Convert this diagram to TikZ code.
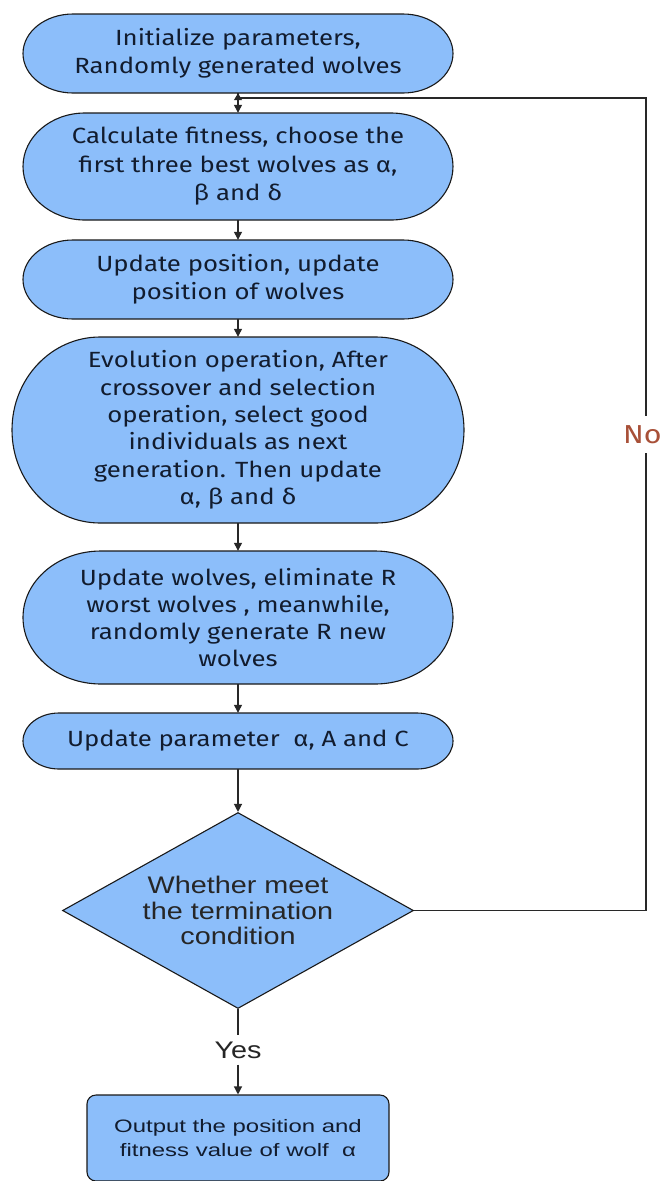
\documentclass[tikz,border=0pt]{standalone}
\usepackage{fontspec}
\setmainfont{Fira Sans}
\newfontfamily\boxfont[FakeStretch=1.17]{Fira Sans}
\newfontfamily\arialfont[FakeStretch=1.2]{Liberation Sans}
\newfontfamily\outfont[FakeStretch=1.33]{Liberation Sans}
\usetikzlibrary{arrows.meta,shapes.geometric,calc}
\definecolor{boxblue}{RGB}{140,190,250}
\definecolor{txtc}{RGB}{18,28,46}
\definecolor{noc}{RGB}{168,80,56}
\definecolor{linec}{RGB}{40,40,40}
\tikzset{
  shapeline/.style={draw=black!90, line width=1.1pt, fill=boxblue},
  boxtext/.style={align=center, text=txtc, font=\boxfont\fontsize{22}{28.5}\selectfont, inner sep=0pt},
  conn/.style={draw=linec, line width=1.2pt},
  arr/.style={conn, -{Triangle[length=8pt,width=8pt]}},
}
\newcommand\stadium[5]{%
  \draw[shapeline] ({#1+#5},-#3) -- ({#2-#5},-#3)
    arc[start angle=90,end angle=-90,x radius=#5,y radius={(#4-#3)/2}]
    -- ({#1+#5},-#4)
    arc[start angle=270,end angle=90,x radius=#5,y radius={(#4-#3)/2}] -- cycle;}
\begin{document}
\begin{tikzpicture}[x=1pt,y=1pt]
\useasboundingbox (0,0) rectangle (662,-1181);
\clip (0,0) rectangle (662,-1181);
\fill[white] (0,0) rectangle (662,-1181);
% shapes
\stadium{23}{453}{14}{93}{50}
\stadium{23}{453}{113}{220}{62}
\stadium{23}{453}{240}{319}{50}
\stadium{12}{464}{337}{523}{88}
\stadium{23}{453}{551}{684}{78}
\stadium{23}{453}{713}{769}{36}
% nodes
\node[boxtext, minimum width=430pt, minimum height=79pt] (b1) at (238,-53.5)
  {Initialize parameters,\\Randomly generated wolves};
\node[boxtext, minimum width=430pt, minimum height=107pt] (b2) at (238,-166.5)
  {Calculate fitness, choose the\\first three best wolves as α,\\β and δ};
\node[boxtext, minimum width=430pt, minimum height=79pt] (b3) at (238,-279.5)
  {Update position, update\\position of wolves};
\node[boxtext, minimum width=452pt, minimum height=186pt, font=\boxfont\fontsize{22}{27.3}\selectfont] (b4) at (238,-430)
  {Evolution operation, After\\crossover and selection\\operation, select good\\individuals as next\\generation. Then update\\α, β and δ};
\node[boxtext, minimum width=430pt, minimum height=133pt, font=\boxfont\fontsize{22}{27.3}\selectfont] (b5) at (238,-617.5)
  {Update wolves, eliminate R\\worst wolves , meanwhile,\\randomly generate R new\\wolves};
\node[boxtext, minimum width=430pt, minimum height=56pt] (b6) at (238,-741)
  {Update parameter\ \ α, A and C};
\node[diamond, shapeline, aspect=1.79, minimum width=351pt, minimum height=196pt, inner sep=0pt,
  align=center, text=black!85, font=\arialfont\fontsize{24}{25.5}\selectfont] (dia) at (238,-910.5)
  {Whether meet\\the termination\\condition};
\node[inner sep=0pt, minimum height=29pt, font=\arialfont\fontsize{24}{26}\selectfont, text=black!85] (yes) at (238,-1050) {Yes};
\node[shapeline, rounded corners=9pt, minimum width=302pt, minimum height=86pt, inner sep=0pt,
  align=center, text=txtc, font=\outfont\fontsize{18}{24}\selectfont] (out) at (238,-1138)
  {Output the position and\\fitness value of wolf\ \ α};
% connectors
\coordinate (R) at (646,-910.5);
\coordinate (T) at (646,-98);
\coordinate (J) at (238,-98);
\draw[conn] (dia.east) -- (R) -- (T) -- (J);
\draw[conn, -{Triangle[length=7pt,width=8pt]}] (J) -- (b1.south);
\draw[arr] (b1.south) -- (b2.north);
\draw[arr] (b2.south) -- (b3.north);
\draw[arr] (b3.south) -- (b4.north);
\draw[arr] (b4.south) -- (b5.north);
\draw[arr] (b5.south) -- (b6.north);
\draw[arr] (b6.south) -- (dia.north);
\draw[conn] (dia.south) -- (yes.north);
\draw[arr] (yes.south) -- (out.north);
\node[anchor=west, inner xsep=0pt, inner ysep=9pt, fill=white, text=noc,
  font=\boxfont\fontsize{26}{28}\selectfont] (no) at (623,-434.5) {No};
\end{tikzpicture}
\end{document}
